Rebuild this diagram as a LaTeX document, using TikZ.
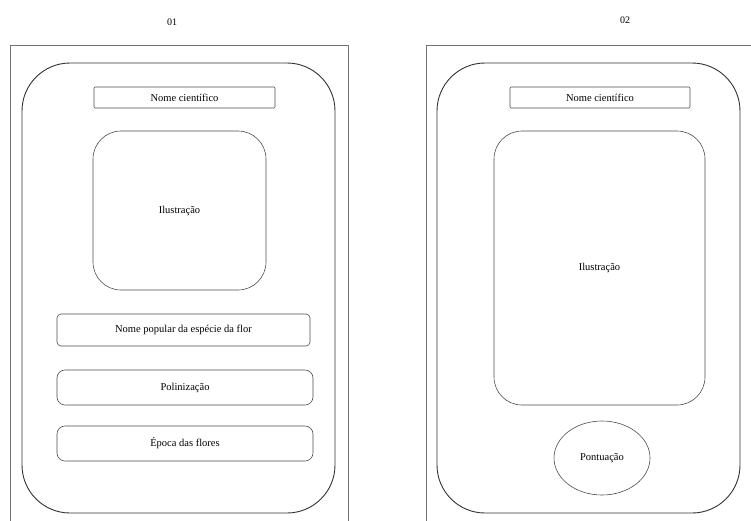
\documentclass[tikz,border=0pt]{standalone}
\usepackage{fontspec}
\setmainfont{Liberation Serif}
\usetikzlibrary{shapes.geometric}
\begin{document}
\begin{tikzpicture}[x=1pt,y=-1pt,
  frame/.style={draw=black!55,line width=0.8pt},
  card/.style={draw=black!80,line width=0.9pt},
  field/.style={draw=black!70,line width=0.6pt,font=\fontsize{10.5}{12}\selectfont},
  lbl/.style={font=\fontsize{10}{12}\selectfont}]
\useasboundingbox (0,0) rectangle (751,520);
% panel 01
\node[lbl] (t1) at (172,22) {01};
\draw[frame] (10,522) -- (10,45) -- (348,45) -- (348,522);
\draw[card,rounded corners=48pt] (22,63) rectangle (335,513);
\node[field,rounded corners=1pt,minimum width=181pt,minimum height=21pt,inner sep=1pt] (sci1) at (184.5,97.5) {Nome científico};
\node[field,rounded corners=28pt,minimum width=173pt,minimum height=159pt] (ill1) at (179.5,210.5) {Ilustração};
\node[field,rounded corners=4pt,minimum width=253pt,minimum height=32pt] (pop1) at (183.5,330) {Nome popular da espécie da flor};
\node[field,rounded corners=8pt,minimum width=256pt,minimum height=35pt] (pol1) at (185,387.5) {Polinização};
\node[field,rounded corners=8pt,minimum width=256pt,minimum height=35pt] (epo1) at (185,443.5) {Época das flores};
% panel 02
\node[lbl] (t2) at (625,20) {02};
\draw[frame] (426,522) -- (426,45) -- (753,45);
\draw[card,rounded corners=48pt] (437,63) rectangle (740,513);
\node[field,rounded corners=1pt,minimum width=180pt,minimum height=21pt,inner sep=1pt] (sci2) at (600,97.5) {Nome científico};
\node[field,rounded corners=28pt,minimum width=211pt,minimum height=274pt] (ill2) at (599.5,268) {Ilustração};
\node[field,ellipse,minimum width=96pt,minimum height=74pt,inner sep=0pt] (pon2) at (602,458) {Pontuação};
\end{tikzpicture}
\end{document}
